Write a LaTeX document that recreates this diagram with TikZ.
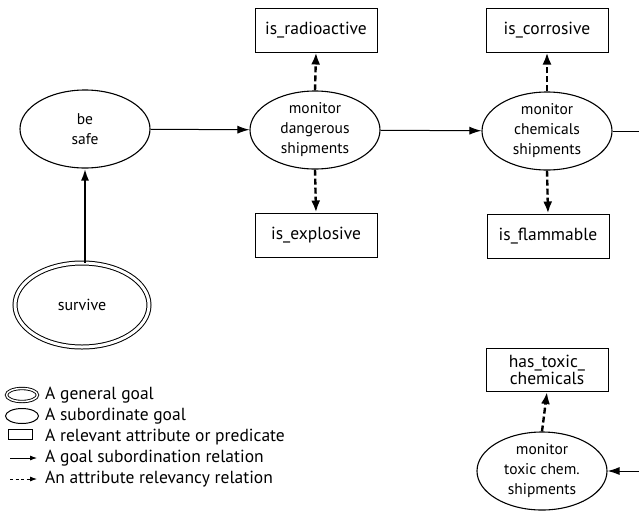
\documentclass[tikz,border=0pt]{standalone}
\usepackage{fontspec}
\setmainfont{PT Sans}
\usetikzlibrary{shapes.geometric,arrows.meta}
\begin{document}
\begin{tikzpicture}[x=1pt,y=-1pt,
  goal/.style={ellipse, draw, line width=1.1pt, minimum width=130pt, minimum height=78pt, inner sep=0pt, align=center, font=\fontsize{15.5}{20}\selectfont},
  gengoal/.style={ellipse, draw, line width=1pt, double, double distance=3pt, minimum width=134pt, minimum height=84pt, inner sep=0pt, align=center, font=\fontsize{16}{20}\selectfont},
  attr/.style={rectangle, draw, line width=1pt, minimum width=122pt, minimum height=44pt, inner sep=2pt, align=center, font=\fontsize{17.5}{17}\selectfont},
  subrel/.style={-{Latex[length=12pt,width=8pt]}, line width=1pt},
  attrrel/.style={-{Latex[length=12pt,width=9pt]}, line width=2.4pt, dash pattern=on 6pt off 3pt},
  legtext/.style={anchor=west, inner sep=0pt, font=\fontsize{17.5}{18}\selectfont}]
\useasboundingbox (0,0) rectangle (639,512);

\node[goal] (safe) at (85,129) {be\\safe};
\node[goal] (dang) at (315,130) {monitor\\dangerous\\shipments};
\node[goal] (chem) at (547,131) {monitor\\chemicals\\shipments};
\node[goal] (toxic) at (542,471) {monitor\\toxic chem.\\shipments};
\node[gengoal] (surv) at (82,305) {survive};

\node[attr] (radio) at (316,30) {is\_radioactive};
\node[attr] (expl) at (316,235) {is\_explosive};
\node[attr] (corr) at (547,30) {is\_corrosive};
\node[attr] (flam) at (548,236) {is\_flammable};
\node[attr, minimum height=43pt] (hastox) at (547,370) {has\_toxic\_\\chemicals};

\coordinate (outR) at (639,131);
\coordinate (inR) at (639,471);

\draw[subrel] (safe) -- (dang);
\draw[subrel] (dang) -- (chem);
\draw[line width=1pt] (chem.east) -- (outR);
\draw[subrel] (inR) -- (toxic.east);
\draw[subrel, line width=2.2pt] (surv.north -| safe.south) -- (safe.south);

\draw[attrrel] (dang.north) -- (radio.south);
\draw[attrrel] (dang.south) -- (expl.north);
\draw[attrrel] (chem.north) -- (corr.south);
\draw[attrrel] (chem.south) -- (flam.north);
\draw[attrrel] (toxic.north) -- (hastox.south);

% legend
\node[ellipse, draw, line width=0.9pt, double, double distance=1.5pt, minimum width=31pt, minimum height=13pt, inner sep=0pt] (lg1) at (22,395) {};
\node[ellipse, draw, line width=1pt, minimum width=33pt, minimum height=15pt, inner sep=0pt] (lg2) at (22,416) {};
\node[rectangle, draw, line width=1pt, minimum width=24pt, minimum height=10pt, inner sep=0pt] (lg3) at (20,434) {};
\coordinate (la1) at (10,458); \coordinate (la2) at (37,458);
\coordinate (lb1) at (10,479); \coordinate (lb2) at (37,479);
\draw[-{Latex[length=7pt,width=5pt]}, line width=0.8pt] (la1) -- (la2);
\draw[-{Latex[length=7pt,width=5pt]}, line width=0.8pt, dash pattern=on 3pt off 2.5pt] (lb1) -- (lb2);
\node[legtext] (t1) at (45,395) {A general goal};
\node[legtext] (t2) at (45,416) {A subordinate goal};
\node[legtext] (t3) at (45,437) {A relevant attribute or predicate};
\node[legtext] (t4) at (45,458) {A goal subordination relation};
\node[legtext] (t5) at (45,479) {An attribute relevancy relation};
\end{tikzpicture}
\end{document}
